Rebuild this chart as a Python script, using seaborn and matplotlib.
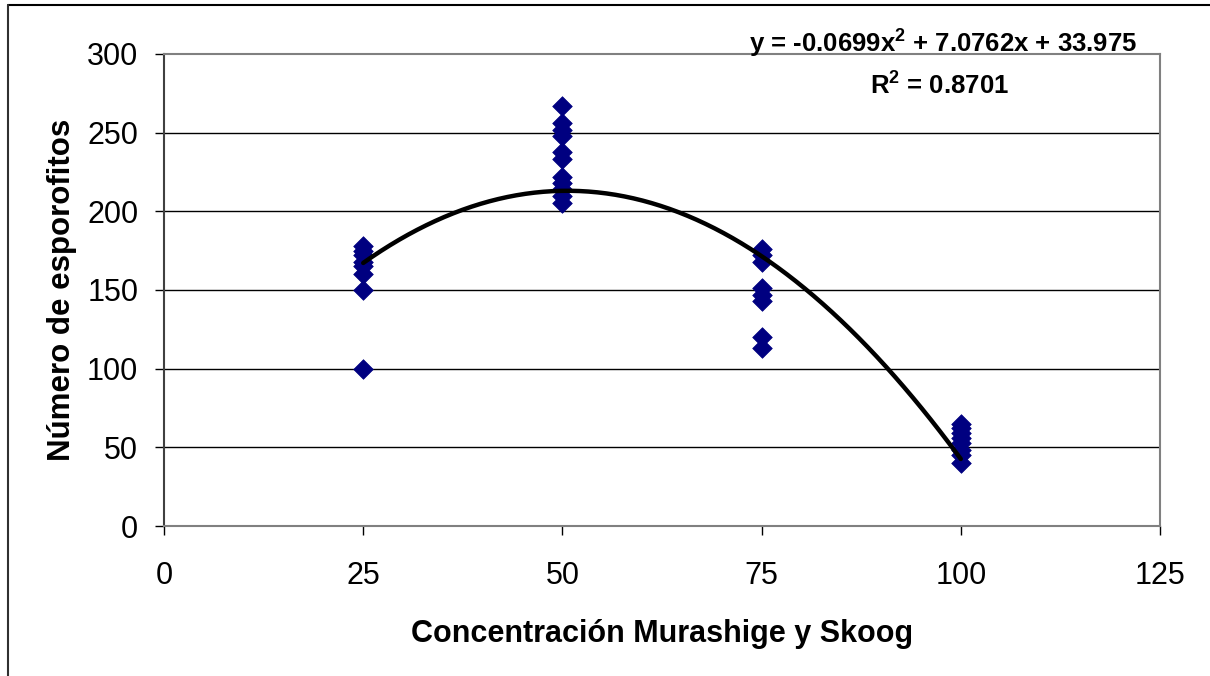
import numpy as np
import pandas as pd
import matplotlib
matplotlib.use("Agg")
import matplotlib.pyplot as plt
from matplotlib.lines import Line2D
import seaborn as sns

# ---- data ----
conc_levels = [25, 50, 75, 100]
vals_25 = [178, 175, 172, 168, 165, 160, 150, 100]
vals_50 = [267, 256, 252, 248, 238, 233, 222, 218, 214, 210, 205]
vals_75 = [176, 172, 168, 151, 147, 143, 120, 113]
vals_100 = [65, 62, 59, 56, 53, 48, 45, 40]
trend_coef = [-0.0699, 7.0762, 33.975]   # a, b, c of y = a x^2 + b x + c
trend_range = [25, 100]
x_ticks = [0, 25, 50, 75, 100, 125]
y_ticks = [0, 50, 100, 150, 200, 250, 300]
x_label = "Concentración Murashige y Skoog"
y_label = "Número de esporofitos"
eq_text = r"y = -0.0699x$^{\mathbf{2}}$ + 7.0762x + 33.975"
r2_text = r"R$^{\mathbf{2}}$ = 0.8701"

groups = [vals_25, vals_50, vals_75, vals_100]
df = pd.DataFrame({
    "conc": [c for c, g in zip(conc_levels, groups) for _ in g],
    "n": [v for g in groups for v in g],
})
xf = np.linspace(trend_range[0], trend_range[1], 200)
a, b, c = trend_coef
trend = pd.DataFrame({"x": xf, "y": a * xf**2 + b * xf + c})

sns.set_theme(style="white")
plt.rcParams["font.family"] = ["Liberation Sans", "DejaVu Sans"]
plt.rcParams["text.color"] = "black"
plt.rcParams["axes.labelcolor"] = "black"
plt.rcParams["xtick.color"] = "black"
plt.rcParams["ytick.color"] = "black"
plt.rcParams["mathtext.fontset"] = "custom"
plt.rcParams["mathtext.rm"] = "Liberation Sans:bold"
plt.rcParams["mathtext.bf"] = "Liberation Sans:bold"

W, H = 1210, 676
fig = plt.figure(figsize=(W / 100, H / 100), dpi=100)
L, R, T, B = 164, 1160, 54, 526
ax = fig.add_axes([L / W, 1 - B / H, (R - L) / W, (B - T) / H])

for yv in y_ticks[1:-1]:
    ax.axhline(yv, color="black", lw=1.0, zorder=0)

sns.lineplot(data=trend, x="x", y="y", ax=ax, color="black", lw=3.2, zorder=3)
sns.scatterplot(data=df, x="conc", y="n", ax=ax, marker="D", s=100,
                color="#000080", edgecolor="#000080", linewidth=0.5, zorder=2)

ax.set_xlim(0, 125)
ax.set_ylim(0, 300)
ax.set_xticks(x_ticks)
ax.set_yticks(y_ticks)
ax.tick_params(axis="both", direction="out", length=6.5, width=1, colors="black",
               labelsize=22, left=True, bottom=True)
ax.tick_params(axis="x", pad=19)
ax.tick_params(axis="y", pad=12)
for side in ["top", "right", "bottom"]:
    ax.spines[side].set_color("#808080")
    ax.spines[side].set_linewidth(1.5)
ax.spines["left"].set_color("#404040")
ax.spines["left"].set_linewidth(1.5)

ax.set_xlabel(x_label, fontsize=22, fontweight="bold", labelpad=20, color="black")
ax.set_ylabel(y_label, fontsize=22.5, fontweight="bold", labelpad=7, color="black")

ax.text(943 / W, 1 - 43 / H, eq_text, transform=fig.transFigure, ha="center",
        va="center", fontsize=18.5, fontweight="bold", color="black")
ax.text(940 / W, 1 - 85 / H, r2_text, transform=fig.transFigure, ha="center",
        va="center", fontsize=18.5, fontweight="bold", color="black")

fig.add_artist(Line2D([8 / W, 1], [1 - 5 / H, 1 - 5 / H], color="black", lw=1.5,
                      transform=fig.transFigure))
fig.add_artist(Line2D([8 / W, 8 / W], [0, 1 - 5 / H], color="#303030", lw=1.5,
                      transform=fig.transFigure))

fig.savefig("out.png", dpi=100)
